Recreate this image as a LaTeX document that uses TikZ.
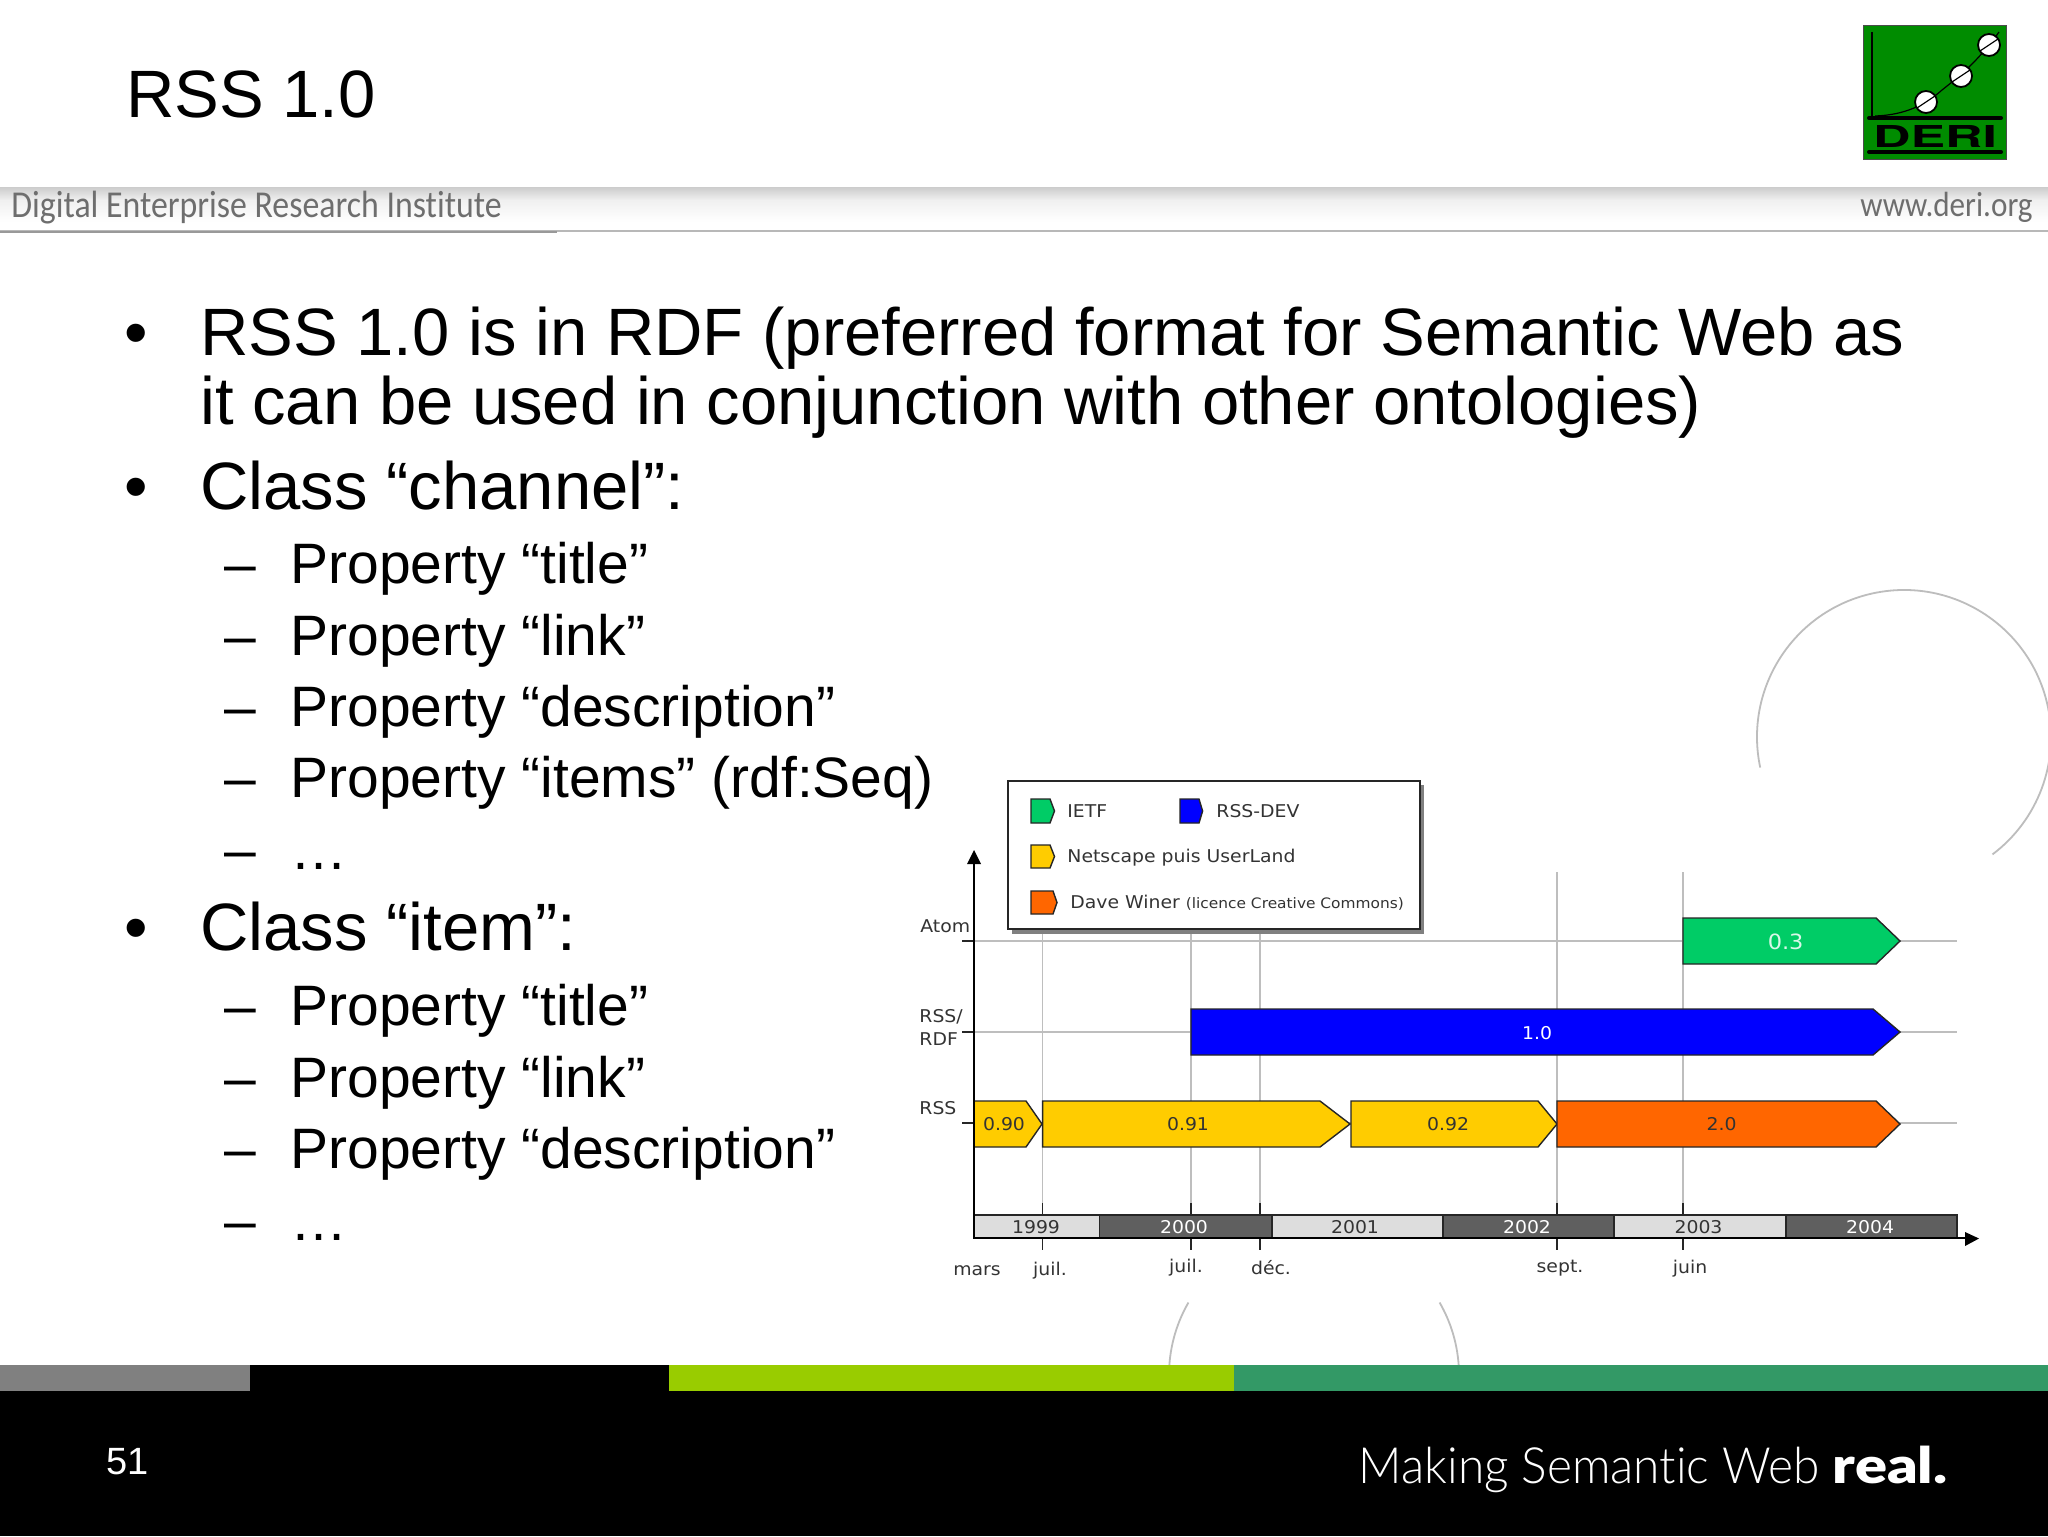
\documentclass[tikz,border=0pt]{standalone}
\usepackage{fontspec}
\usepackage{graphicx}
\setmainfont{Liberation Sans}
\newfontfamily\chartfont[FakeStretch=1.07]{DejaVu Sans}
\newfontfamily\stripfont[FakeStretch=0.89,Ligatures=NoCommon]{Carlito}
\newfontfamily\tagfont[FakeStretch=0.957,Ligatures=NoCommon]{Lato Light}
\newfontfamily\tagbold[FakeStretch=1.19]{Lato Black}
\definecolor{ietf}{HTML}{00CC66}
\definecolor{rssdev}{HTML}{0000FF}
\definecolor{nets}{HTML}{FFCC00}
\definecolor{dave}{HTML}{FF6600}
\definecolor{yrdark}{HTML}{5F5F5F}
\definecolor{yrlight}{HTML}{DDDDDD}
\definecolor{gridc}{HTML}{BEBEBE}
\definecolor{arcc}{HTML}{BDBDBD}
\definecolor{lime}{HTML}{99CC00}
\definecolor{sea}{HTML}{339966}
\definecolor{logog}{HTML}{008C00}
\definecolor{stript}{HTML}{6E6E6E}
\newcommand{\fsz}[1]{\fontsize{#1}{#1}\selectfont}
% bar: x0, body end, tip, ytop, ybot, colour
\newcommand{\pennant}[6]{\fill[#6] (#1,#4) -- (#2,#4) -- (#3,{(#4+#5)/2}) -- (#2,#5) -- (#1,#5) -- cycle;
  \draw[barline] (#1,#5) -- (#1,#4) -- (#2,#4) -- (#3,{(#4+#5)/2}) -- (#2,#5) -- cycle;}
\tikzset{
  title/.style={anchor=base west,inner sep=0pt,font=\fsz{33.5}},
  lvlone/.style={anchor=base west,inner sep=0pt,font=\fsz{33.5}},
  lvltwo/.style={anchor=base west,inner sep=0pt,font=\fsz{28.5}},
  barline/.style={line width=0.7pt,black!85},
  gridline/.style={gridc,line width=0.7pt},
  tick/.style={line width=0.7pt,black!85},
  axisline/.style={line width=0.9pt,black},
  chart/.style={inner sep=0pt,font=\chartfont\fsz{8.8},text=black!80},
  leg/.style={anchor=west,chart},
  strip/.style={inner sep=0pt,font=\stripfont\fsz{19},text=stript},
  dec/.style={arcc,line width=0.9pt},
  yeard/.style={fill=yrdark,draw=black!85,line width=0.7pt},
  yearl/.style={fill=yrlight,draw=black!85,line width=0.7pt},
}
\begin{document}
\begin{tikzpicture}[x=0.5pt,y=-0.5pt]
\useasboundingbox (0,0) rectangle (2048,1536);
\clip (0,0) rectangle (2048,1536);
\fill[white] (0,0) rectangle (2048,1536);
% decorative arcs
\draw[dec] (1904,737) ++(168:147) arc[start angle=168,end angle=413,radius=147];
\draw[dec] (1314,1375) ++(184:145) arc[start angle=184,end angle=210,radius=145];
\draw[dec] (1314,1375) ++(330:145) arc[start angle=330,end angle=356,radius=145];
% header strip
\shade[top color=black!20,bottom color=black!6] (0,187) rectangle (2048,200);
\shade[top color=black!6,bottom color=white] (0,200) rectangle (2048,222);
\fill[black!28] (0,230) rectangle (2048,232);
\fill[black!40] (0,231) rectangle (557,233);
\node[strip,anchor=base west] (institute) at (11,217) {Digital Enterprise Research Institute};
\node[strip,anchor=base east,font=\stripfont\fsz{17.5}] (www) at (2033,216) {www.deri.org};
% logo
\fill[logog,draw=black!70,line width=0.5pt] (1863,26) rectangle (2006,159);
\draw[line width=0.6pt] (1872,32) -- (1872,117);
\draw[line width=0.6pt] (1875,116) .. controls (1905,115) and (1925,105) .. (1942,90) .. controls (1965,72) and (1980,58) .. (1999,32);
\draw[line width=2pt,line cap=round] (1869,118) -- (2001,118);
\draw[line width=2pt,line cap=round] (1869,152) -- (2001,152);
\foreach \cx/\cy in {1926/102,1961/76,1989/45}{
  \draw[fill=white,line width=0.9pt] (\cx,\cy) circle[radius=11];
  \draw[line width=0.6pt] (\cx-9,\cy+6) -- (\cx+9,\cy-6);
}
\node[inner sep=0pt] (deri) at (1935,136) {\resizebox{62pt}{11pt}{\fontspec{TeX Gyre Heros}\bfseries DERI}};
% title and text
\node[title] (t0) at (126,118) {RSS 1.0};
\node[lvlone] (b1) at (124,355) {•};
\node[lvlone] (l1) at (200,355) {RSS 1.0 is in RDF (preferred format for Semantic Web as};
\node[lvlone] (l2) at (200,424) {it can be used in conjunction with other ontologies)};
\node[lvlone] (b2) at (124,509) {•};
\node[lvlone] (l3) at (200,509) {Class “channel”:};
\node[lvltwo] (d1) at (224,583) {–};
\node[lvltwo] (s1) at (290,583) {Property “title”};
\node[lvltwo] (d2) at (224,655) {–};
\node[lvltwo] (s2) at (290,655) {Property “link”};
\node[lvltwo] (d3) at (224,726) {–};
\node[lvltwo] (s3) at (290,726) {Property “description”};
\node[lvltwo] (d4) at (224,797) {–};
\node[lvltwo] (s4) at (290,797) {Property “items” (rdf:Seq)};
\node[lvltwo] (d5) at (224,869) {–};
\node[lvltwo] (s5) at (290,869) {…};
\node[lvlone] (b3) at (124,950) {•};
\node[lvlone] (l4) at (200,950) {Class “item”:};
\node[lvltwo] (d6) at (224,1025) {–};
\node[lvltwo] (s6) at (290,1025) {Property “title”};
\node[lvltwo] (d7) at (224,1097) {–};
\node[lvltwo] (s7) at (290,1097) {Property “link”};
\node[lvltwo] (d8) at (224,1168) {–};
\node[lvltwo] (s8) at (290,1168) {Property “description”};
\node[lvltwo] (d9) at (224,1240) {–};
\node[lvltwo] (s9) at (290,1240) {…};
% chart grid
\foreach \gy in {941,1032,1123}{ \draw[gridline] (974,\gy) -- (1957,\gy); \draw[tick] (962,\gy) -- (974,\gy); }
\foreach \gx in {1042.6,1191,1260,1557,1683}{ \draw[gridline] (\gx,872) -- (\gx,1203); \draw[tick] (\gx,1203) -- (\gx,1250); }
% legend
\fill[black!50] (1012,785) rectangle (1424,934);
\fill[white,draw=black!85,line width=0.8pt] (1008,781) rectangle (1420,929);
\pennant{1031}{1050}{1054.5}{799}{823}{ietf}
\pennant{1180}{1199}{1202.6}{799}{823}{rssdev}
\pennant{1031}{1050}{1054.5}{845}{868}{nets}
\pennant{1031}{1053}{1057}{891}{914}{dave}
\node[leg] (lg1) at (1067,811) {IETF};
\node[leg] (lg2) at (1216,811) {RSS-DEV};
\node[leg] (lg3) at (1067,858) {Netscape puis UserLand};
\node[leg] (lg4) at (1070,903) {Dave Winer {\fsz{7.2}(licence Creative Commons)}};
% bars
\pennant{1683}{1876}{1900}{918}{964}{ietf}
\pennant{1191}{1873}{1900}{1009}{1055}{rssdev}
\pennant{974}{1026}{1042}{1101}{1147}{nets}
\pennant{1042.6}{1320}{1350}{1101}{1147}{nets}
\pennant{1351}{1538}{1557}{1101}{1147}{nets}
\pennant{1557}{1876}{1900}{1101}{1147}{dave}
\node[chart,text=white!85!ietf,font=\chartfont\fsz{10.5}] (v03) at (1785.6,942) {0.3};
\node[chart,text=white] (v10) at (1537,1033) {1.0};
\node[chart] (v090) at (1004,1124) {0.90};
\node[chart] (v091) at (1188,1124) {0.91};
\node[chart] (v092) at (1448,1124) {0.92};
\node[chart] (v20) at (1721.5,1124) {2.0};
% year band
\draw[yearl] (974,1215) rectangle (1099.5,1238);
\draw[yeard] (1099.5,1215) rectangle (1272,1238);
\draw[yearl] (1272,1215) rectangle (1443,1238);
\draw[yeard] (1443,1215) rectangle (1614,1238);
\draw[yearl] (1614,1215) rectangle (1786,1238);
\draw[yeard] (1786,1215) rectangle (1957,1238);
\node[chart] (y99) at (1036,1227) {1999};
\node[chart,text=white] (y00) at (1184,1227) {2000};
\node[chart] (y01) at (1355,1227) {2001};
\node[chart,text=white] (y02) at (1527,1227) {2002};
\node[chart] (y03) at (1698.5,1227) {2003};
\node[chart,text=white] (y04) at (1870,1227) {2004};
% axes
\draw[axisline] (974,864) -- (974,1238) -- (1965,1238);
\fill (974,850) -- (981,864) -- (967,864) -- cycle;
\fill (1979,1238.5) -- (1965,1232) -- (1965,1246) -- cycle;
% axis labels
\node[chart,anchor=west] (ya) at (920,926) {Atom};
\node[chart,anchor=west] (yb) at (919,1017) {RSS/};
\node[chart,anchor=west] (yc) at (919,1039) {RDF};
\node[chart,anchor=west] (yd) at (919,1108) {RSS};
\node[chart] (m1) at (977,1271) {mars};
\node[chart] (m2) at (1050,1271) {juil.};
\node[chart] (m3) at (1186,1268) {juil.};
\node[chart] (m4) at (1271,1268) {déc.};
\node[chart] (m5) at (1560,1268) {sept.};
\node[chart] (m6) at (1690,1269) {juin};
% footer
\fill[black] (0,1365) rectangle (2048,1536);
\fill[black!50] (0,1365) rectangle (250,1391);
\fill[lime] (669,1365) rectangle (1234,1391);
\fill[sea] (1234,1365) rectangle (2048,1391);
\node[anchor=base west,inner sep=0pt,text=white,font=\fsz{19}] (pg) at (106,1474) {51};
\node[anchor=base east,inner sep=0pt,text=white,font=\tagfont\fsz{25}] (tag) at (1948,1483) {Making Semantic Web {\tagbold real.}};
\end{tikzpicture}
\end{document}
